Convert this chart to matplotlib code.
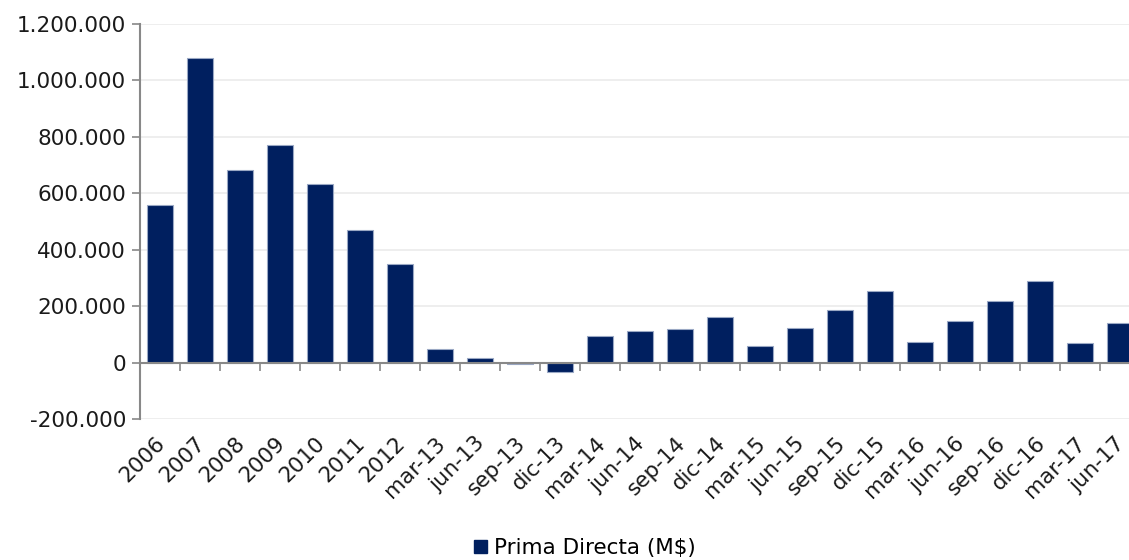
import matplotlib.pyplot as plt
from matplotlib.patches import Patch
from matplotlib.ticker import FuncFormatter
import matplotlib.transforms as mtransforms
import numpy as np

# Prima directa por periodo (M$)
periodos = ["2006", "2007", "2008", "2009", "2010", "2011", "2012",
            "mar-13", "jun-13", "sep-13", "dic-13",
            "mar-14", "jun-14", "sep-14", "dic-14",
            "mar-15", "jun-15", "sep-15", "dic-15",
            "mar-16", "jun-16", "sep-16", "dic-16",
            "mar-17", "jun-17"]
prima = [558000, 1080000, 682000, 770000, 633000, 470000, 351000,
         47000, 15000, -6000, -35000,
         93000, 112000, 119000, 163000,
         58000, 121000, 187000, 255000,
         74000, 147000, 219000, 289000,
         71000, 141000]

azul = "#001f5f"
gris = "#888888"

plt.rcParams["font.family"] = ["DejaVu Sans"]
plt.rcParams["font.size"] = 15.5

W, H = 1129, 560
fig = plt.figure(figsize=(W / 100, H / 100), dpi=100)
ax = fig.add_axes([140 / W, (H - 419) / H, 1000 / W, (419 - 24) / H])

x = np.arange(len(periodos))
ax.bar(x, prima, width=0.65, color=azul, edgecolor="#9aa8c4",
       linewidth=0.8, zorder=3)

ax.set_xlim(-0.5, len(periodos) - 0.5)
ax.set_ylim(-200000, 1200000)
ax.set_yticks(np.arange(-200000, 1200001, 200000))
ax.yaxis.set_major_formatter(
    FuncFormatter(lambda v, p: f"{int(v):,}".replace(",", ".")))
ax.grid(axis="y", color="#ebebeb", linewidth=1.2, zorder=0)
ax.tick_params(axis="y", length=6, color=gris, width=1.2, pad=4,
               labelcolor="#1a1a1a")

# eje horizontal en cero con marcas entre categorias
for s in ["top", "right"]:
    ax.spines[s].set_visible(False)
ax.spines["left"].set_color(gris)
ax.spines["left"].set_linewidth(1.5)
ax.spines["bottom"].set_position(("data", 0))
ax.spines["bottom"].set_color(gris)
ax.spines["bottom"].set_linewidth(1.5)
ax.spines["bottom"].set_zorder(4)
ax.set_xticks(np.arange(0.5, len(periodos) - 0.5, 1.0))
ax.set_xticklabels([])
ax.tick_params(axis="x", direction="out", length=6, color=gris, width=1.2)

# etiquetas de categoria giradas bajo el eje
trans = ax.get_xaxis_transform() + mtransforms.ScaledTranslation(
    2 / 100, -21 / 100, fig.dpi_scale_trans)
for i, lab in enumerate(periodos):
    ax.text(i, 0, lab, transform=trans, rotation=45, ha="right",
            va="center", rotation_mode="anchor", color="#1a1a1a")

fig.legend(handles=[Patch(facecolor=azul, edgecolor=azul)],
           labels=["Prima Directa (M$)"], loc="center",
           bbox_to_anchor=(585 / W, 12 / H), frameon=False,
           handlelength=0.6, handleheight=0.6, handletextpad=0.3)

fig.savefig("out.png", dpi=100)
